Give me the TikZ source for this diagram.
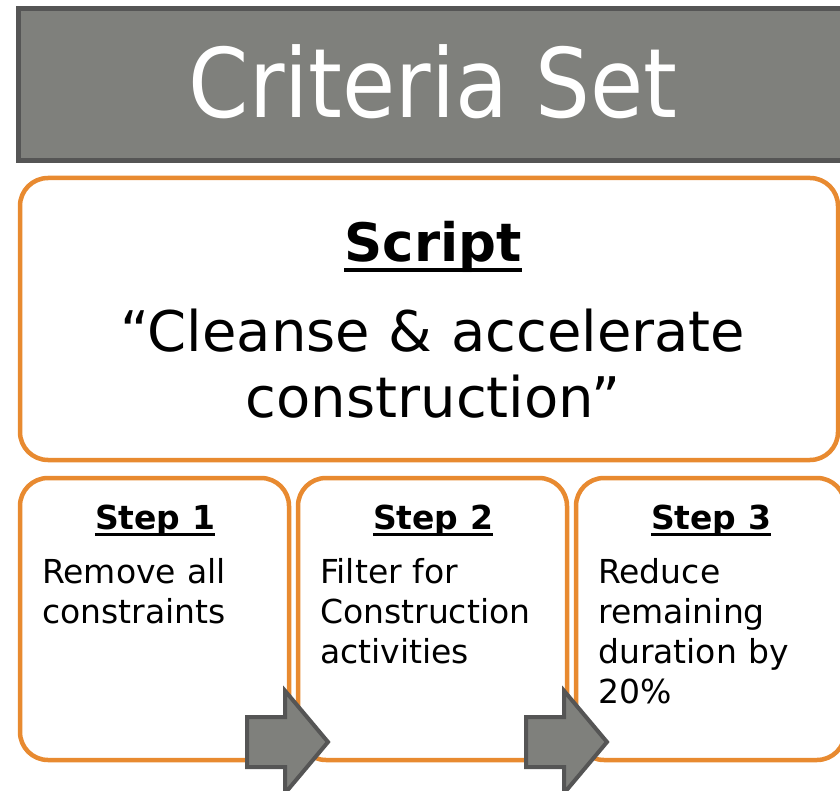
\documentclass[tikz,border=0pt]{standalone}
\usepackage{fontspec}
\setmainfont{DejaVu Sans}
\newfontfamily\titlefont{DejaVu Sans Condensed}
\usepackage{tikz}
\usetikzlibrary{positioning,shapes.arrows}

\definecolor{critorange}{HTML}{E88A30}
\definecolor{critgray}{HTML}{7F807C}
\definecolor{critdark}{HTML}{555555}

\tikzset{
  panel/.style={draw=critorange, line width=4.5pt, rounded corners=28pt, fill=white,
    anchor=north west, inner sep=0pt, outer sep=0pt},
  stephead/.style={anchor=base, inner sep=0pt, font=\fontsize{33}{40}\selectfont\bfseries},
  steptext/.style={anchor=north west, inner sep=0pt, text width=250pt, align=left,
    font=\fontsize{33}{40}\selectfont},
  nextarrow/.style={single arrow, draw=critdark, fill=critgray, line width=4pt,
    inner xsep=0pt, inner ysep=23pt, minimum height=81pt, single arrow head extend=26pt,
    single arrow tip angle=100, outer sep=0pt, anchor=tip},
}

\begin{document}
\begin{tikzpicture}[x=1pt, y=-1pt]
      \useasboundingbox (0,0) rectangle (840,791);
      \clip (0,0) rectangle (840,791);
      % title bar
      \node [draw=critdark, line width=5pt, fill=critgray, anchor=north west, inner sep=0pt,
        outer sep=0pt, minimum width=900pt, minimum height=152pt] (bar) at (18,9) {};
      \node [anchor=base, text=white, inner sep=0pt, font=\titlefont\fontsize{96}{100}\selectfont]
        (ttl) at (433,118) {Criteria Set};
      % script box
      \node [panel, minimum width=818pt, minimum height=282pt] (scr) at (20,178) {};
      \node [anchor=base, inner sep=0pt, font=\fontsize{53}{60}\selectfont\bfseries]
        (scrhd) at (433,262) {Script};
      \draw [line width=4pt] ([yshift=-8pt]scrhd.base west) -- ([yshift=-8pt]scrhd.base east);
      \node [anchor=north, inner sep=0pt, text width=800pt, align=center,
        font=\fontsize{56}{66}\selectfont] (scrtxt) at (433,309)
        {``Cleanse \& accelerate\\construction''};
      % steps
      \node [panel, minimum width=269pt, minimum height=282pt] (s1) at (20,478) {};
      \node [panel, minimum width=269pt, minimum height=282pt] (s2) at (298,478) {};
      \node [panel, minimum width=269pt, minimum height=282pt] (s3) at (576,478) {};
      \node [stephead] (h1) at (155,529) {Step 1};
      \node [stephead] (h2) at (433,529) {Step 2};
      \node [stephead] (h3) at (711,529) {Step 3};
      \foreach \h in {h1,h2,h3}
        \draw [line width=3pt] ([yshift=-5pt]\h.base west) -- ([yshift=-5pt]\h.base east);
      \node [steptext] (t1) at (42,558) {Remove all\\constraints};
      \node [steptext] (t2) at (320,558) {Filter for\\Construction\\activities};
      \node [steptext] (t3) at (598,558) {Reduce\\remaining\\duration by\\20\%};
      % arrows between steps
      \node [nextarrow] (a1) at (328,742) {};
      \node [nextarrow] (a2) at (607,742) {};
    \end{tikzpicture}
\end{document}
